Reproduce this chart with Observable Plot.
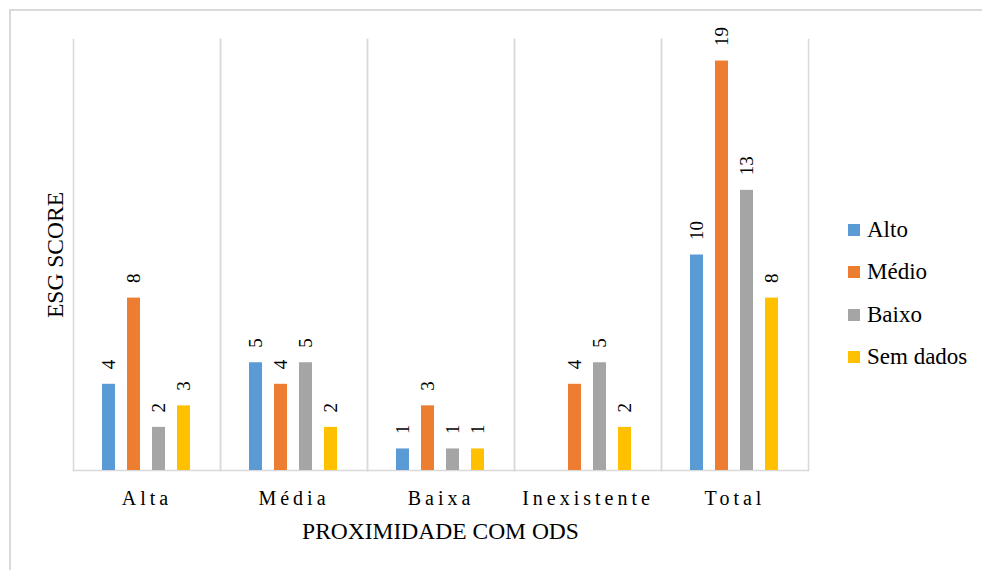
<!DOCTYPE html>
<html><head><meta charset="utf-8">
<script src="https://cdn.jsdelivr.net/npm/d3@7"></script>
<script src="https://cdn.jsdelivr.net/npm/@observablehq/plot@0.6"></script>
<style>
body{margin:0;background:#fff;}
#wrap{position:relative;width:982px;height:570px;overflow:hidden;font-family:'Liberation Serif';}
#border{position:absolute;left:9px;top:9px;width:990px;height:580px;border-left:2px solid #d9d9d9;border-top:2px solid #d9d9d9;box-sizing:border-box;pointer-events:none;}
#chart{position:absolute;left:0;top:0;}
#legend{position:absolute;left:848px;top:209px;font-size:23px;color:#000;font-family:'Liberation Serif';}
#legend .row{height:42.3px;display:flex;align-items:center;white-space:nowrap;}
#legend .sw{width:12px;height:12px;margin-right:7px;flex:none;}
#legend span{font-family:'Liberation Serif';}
</style></head>
<body><div id="wrap"><div id="chart"></div><div id="legend"></div><div id="border"></div></div>
<script>
const groups = ["Alta", "Média", "Baixa", "Inexistente", "Total"];
const series = ["Alto", "Médio", "Baixo", "Sem dados"];
const colors = ["#5B9BD5", "#ED7D31", "#A5A5A5", "#FFC000"];
const alto = [4, 5, 1, null, 10];
const medio = [8, 4, 3, 4, 19];
const baixo = [2, 5, 1, 5, 13];
const semDados = [3, 2, 1, 2, 8];
const yMax = 20;
const xTitle = "PROXIMIDADE COM ODS";
const yTitle = "ESG SCORE";

const valuesBySeries = [alto, medio, baixo, semDados];
const data = groups.flatMap((g, i) => series.map((s, j) => ({group: g, series: s, value: valuesBySeries[j][i]})))
  .filter(d => d.value != null);

const font = "Liberation Serif";
const W = 982, H = 570, mL = 73, mR = 174, mT = 39, mB = 100;
const gridColor = "#d9d9d9";

const chart = Plot.plot({
  width: W, height: H,
  marginLeft: mL, marginRight: mR, marginTop: mT, marginBottom: mB,
  style: {fontFamily: font, fontSize: "20px", background: "transparent", color: "#000", overflow: "visible"},
  fx: {domain: groups, padding: 0, label: null, axis: "bottom", tickSize: 0, tickPadding: 20},
  x: {domain: series, paddingInner: 0.464, paddingOuter: 1.172, axis: null},
  y: {domain: [0, yMax], axis: null},
  color: {domain: series, range: colors},
  marks: [
    Plot.frame({anchor: "left", stroke: gridColor, strokeWidth: 1.5, strokeOpacity: 1}),
    Plot.frame({anchor: "right", stroke: gridColor, strokeWidth: 1.5, strokeOpacity: 1}),
    Plot.frame({anchor: "bottom", stroke: gridColor, strokeWidth: 1.5, strokeOpacity: 1}),
    Plot.barY(data, {fx: "group", x: "series", y: "value", fill: "series"}),
    Plot.text(data, {fx: "group", x: "series", y: "value", text: d => String(d.value),
      rotate: -90, textAnchor: "start", lineAnchor: "middle", dy: -15, fontSize: 19, fill: "#000", fontFamily: font})
  ]
});
document.getElementById("chart").appendChild(chart);

const svg = d3.select(chart);
svg.selectAll('g[aria-label^="fx-axis"] text').attr("letter-spacing", "4px").attr("fill", "#000").attr("font-size", 20);

svg.append("text")
  .attr("x", (mL + (W - mR)) / 2).attr("y", 539)
  .attr("text-anchor", "middle").attr("font-size", 23.5).attr("fill", "#000")
  .text(xTitle);
svg.append("text")
  .attr("transform", `translate(63,255) rotate(-90)`)
  .attr("text-anchor", "middle").attr("font-size", 23.5).attr("fill", "#000")
  .text(yTitle);
svg.selectAll("text").attr("font-family", font).style("font-family", font);

const legend = d3.select("#legend");
series.forEach((s, i) => {
  const row = legend.append("div").attr("class", "row");
  row.append("div").attr("class", "sw").style("background", colors[i]);
  row.append("span").text(s);
});
</script>
</body></html>
